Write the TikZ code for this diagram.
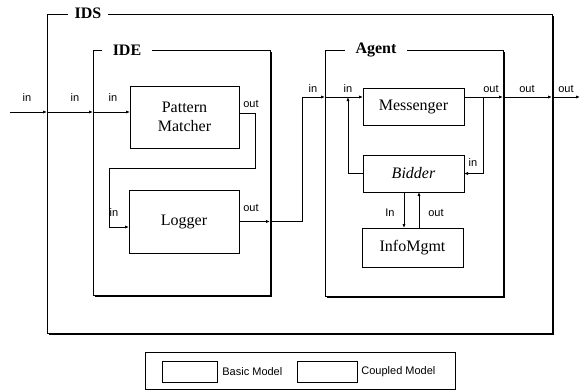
\documentclass[tikz,border=0pt]{standalone}
\usepackage{fontspec}
\setmainfont{Liberation Serif}
\newfontfamily\portfont{Liberation Sans}
\usetikzlibrary{arrows.meta,shadows}
\begin{document}
\begin{tikzpicture}[x=1pt,y=-1pt, line width=0.8pt,
 basic/.style={draw, fill=white, inner sep=0pt, outer sep=0pt, align=center,
   font=\fontsize{16}{18.5}\selectfont,
   drop shadow={shadow xshift=1.3pt, shadow yshift=-1.3pt, opacity=1, fill=black}},
 coupled/.style={draw, fill=white, inner sep=0pt, outer sep=0pt,
   drop shadow={shadow xshift=2pt, shadow yshift=-1.6pt, opacity=1, fill=black}},
 title/.style={fill=white, inner xsep=7pt, inner ysep=1pt, font=\fontsize{16}{18}\selectfont\bfseries},
 port/.style={font=\portfont\fontsize{11}{12}\selectfont, inner sep=0.5pt},
 legtext/.style={font=\portfont\fontsize{11}{12}\selectfont, inner sep=0pt, anchor=west},
 arr/.style={-{Latex[length=4pt,width=3.2pt]}},
]
\useasboundingbox (0,0) rectangle (588,391);

% coupled models
\node[coupled, minimum width=505pt, minimum height=319pt] (IDS) at (299.5,173.5) {};
\node[coupled, minimum width=177pt, minimum height=245pt] (IDE) at (181.5,172.5) {};
\node[coupled, minimum width=178pt, minimum height=246pt] (Agent) at (414,173) {};
\node[title] (tIDS) at (88,13) {IDS};
\node[title, inner xsep=11pt] (tIDE) at (127,50) {IDE};
\node[title, inner xsep=11pt] (tAgent) at (376,50) {Agent};

% basic models
\node[basic, minimum width=109pt, minimum height=62pt] (pm) at (184.5,117) {Pattern\\Matcher};
\node[basic, minimum width=110pt, minimum height=63pt] (lg) at (184,221.5) {Logger};
\node[basic, minimum width=101pt, minimum height=37pt] (ms) at (413.5,106.5) {Messenger};
\node[basic, minimum width=101pt, minimum height=37pt] (bd) at (413.5,173.5) {\itshape Bidder};
\node[basic, minimum width=101pt, minimum height=39pt] (im) at (412.5,247.5) {InfoMgmt};

% coordinates
\coordinate (src) at (10,112);
\coordinate (pin) at (130,112);
\coordinate (pout) at (239,113);
\coordinate (c1) at (255,168);
\coordinate (c2) at (109,227);
\coordinate (c3) at (302,97);
\coordinate (c4) at (483,97);
\coordinate (c5) at (348,97);
\coordinate (sink) at (580,97);
\coordinate (xa) at (404,0);
\coordinate (xb) at (419,0);

% input chain
\draw[arr] (src) -- (IDS.west |- pin);
\draw[arr] (IDS.west |- pin) -- (IDE.west |- pin);
\draw[arr] (IDE.west |- pin) -- (pm.west |- pin);
% pattern matcher -> logger
\draw[arr] (pm.east |- pout) -| (c1) -| (c2) -- (lg.west |- c2);
% logger -> agent
\draw[arr] (lg.east) -- (IDE.east |- lg.east);
\draw[arr] (IDE.east |- lg.east) -| (c3) -- (Agent.west |- c3);
\draw[arr] (Agent.west |- c3) -- (ms.west |- c3);
% messenger out
\draw[arr] (ms.east |- c3) -- (Agent.east |- c3);
\draw[arr] (Agent.east |- c3) -- (IDS.east |- c3);
\draw[arr] (IDS.east |- c3) -- (sink);
% feedback to bidder
\draw[arr] (c4) |- (bd.east);
\draw[arr] (bd.west) -| (c5);
% bidder <-> infomgmt
\draw[arr] (bd.south -| xa) -- (im.north -| xa);
\draw[arr] (im.north -| xb) -- (bd.south -| xb);

% port labels
\node[port] (l1) at (27,98) {in};
\node[port] (l2) at (75,98) {in};
\node[port] (l3) at (113,98) {in};
\node[port] (l4) at (251,104) {out};
\node[port] (l5) at (114,213) {in};
\node[port] (l6) at (251,208) {out};
\node[port] (l7) at (313,89) {in};
\node[port] (l8) at (348,89) {in};
\node[port] (l9) at (491,89) {out};
\node[port] (l10) at (527,89) {out};
\node[port] (l11) at (566,89) {out};
\node[port] (l12) at (473,163) {in};
\node[port] (l13) at (390,213) {In};
\node[port] (l14) at (436,213) {out};

% legend
\node[draw, inner sep=0pt, minimum width=310pt, minimum height=37pt] (leg) at (300,370.5) {};
\node[basic, minimum width=55pt, minimum height=21pt] (lb) at (189.5,371.5) {};
\node[basic, minimum width=60pt, minimum height=21pt] (lc) at (327,371.5) {};
\node[legtext] (lbt) at (222,371.5) {Basic Model};
\node[legtext] (lct) at (361,371.5) {Coupled Model};
\end{tikzpicture}
\end{document}
